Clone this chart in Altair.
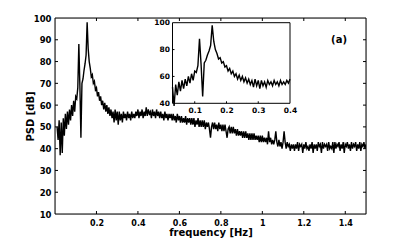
import altair as alt
import pandas as pd

# ---------------- data ----------------
f_start = 0.01
f_step = 0.005
psd_db = [
    50, 44, 53, 37, 52, 38, 54, 46, 56, 49,
    57, 51, 58, 53, 60, 55, 62, 57, 64, 63,
    68, 88, 69, 45, 70, 72, 76, 79, 83, 98,
    86, 80, 77, 73, 74, 70, 71, 67, 68, 64,
    66, 62, 64, 60, 62, 58, 61, 57, 60, 56,
    59, 55, 58, 54, 57, 52, 58, 53, 57, 51,
    57, 53, 56, 52, 57, 54, 56, 53, 57, 54,
    56, 53, 57, 54, 56, 54, 57, 55, 58, 54,
    57, 55, 58, 54, 57, 55, 59, 55, 58, 56,
    57, 54, 58, 55, 57, 54, 58, 55, 57, 54,
    57, 54, 56, 53, 57, 54, 56, 53, 56, 54,
    56, 53, 56, 53, 55, 52, 56, 53, 55, 52,
    55, 52, 54, 52, 55, 51, 54, 52, 54, 51,
    54, 51, 54, 50, 53, 51, 54, 50, 53, 50,
    53, 50, 53, 49, 52, 50, 52, 49, 45, 50,
    52, 49, 52, 49, 51, 48, 52, 49, 51, 48,
    51, 48, 51, 48, 45, 49, 50, 47, 50, 47,
    50, 47, 49, 46, 49, 46, 48, 46, 48, 45,
    48, 45, 48, 45, 47, 44, 47, 44, 47, 44,
    47, 44, 46, 44, 46, 43, 46, 43, 46, 43,
    45, 43, 45, 42, 48, 43, 45, 42, 44, 42,
    44, 48, 43, 41, 44, 41, 43, 40, 43, 48,
    43, 40, 43, 41, 42, 39, 42, 40, 42, 39,
    42, 40, 43, 39, 42, 41, 42, 38, 42, 40,
    43, 40, 41, 39, 42, 40, 43, 38, 42, 40,
    42, 39, 43, 41, 42, 38, 43, 40, 42, 41,
    42, 39, 43, 40, 41, 40, 43, 38, 43, 40,
    42, 41, 43, 39, 42, 40, 43, 38, 42, 41,
    43, 40, 42, 39, 43, 40, 42, 41, 43, 39,
    42, 40, 43, 39, 42, 41, 43, 40, 42,
]
freq_hz = [round(f_start + f_step * i, 3) for i in range(len(psd_db))]

main_xticks = [0.2, 0.4, 0.6, 0.8, 1, 1.2, 1.4]
main_yticks = [10, 20, 30, 40, 50, 60, 70, 80, 90, 100]
inset_xticks = [0.1, 0.2, 0.3, 0.4]
inset_yticks = [40, 60, 80, 100]
main_xdomain = [0, 1.5]
main_ydomain = [10, 100]
inset_xdomain = [0.03, 0.4]
inset_ydomain = [40, 100]
panel_label = "(a)"
panel_label_pos = (1.37, 90)

df = pd.DataFrame({"f": freq_hz, "psd": psd_db})

# ---------------- layout ----------------
W, H = 311, 196
INSET_X0, INSET_X1 = 117.5, 235.0   # pixel range inside plot area
INSET_YT, INSET_YB = 4.7, 85.3
TICK = 3.0
FONT = "DejaVu Sans"
LW = 1.4

mx = alt.Scale(domain=main_xdomain, nice=False, zero=False)
my = alt.Scale(domain=main_ydomain, nice=False, zero=False)
ix = alt.Scale(domain=inset_xdomain, range=[INSET_X0, INSET_X1], nice=False, zero=False)
iy = alt.Scale(domain=inset_ydomain, range=[INSET_YB, INSET_YT], nice=False, zero=False)

lab = dict(labelFont=FONT, labelFontWeight="bold", labelColor="black",
           labelFlush=False, labelOverlap=False, tickSize=0, domain=False, grid=False)

main_line = alt.Chart(df).mark_line(color="black", strokeWidth=LW, clip=True).encode(
    x=alt.X("f:Q", scale=mx, axis=alt.Axis(
        orient="bottom", values=main_xticks, format="~g",
        labelPadding=5, labelFontSize=8,
        title="frequency [Hz]", titleFont=FONT, titleFontWeight="bold", titleColor="black",
        titleFontSize=10, titleX=W / 2, titleY=18,
        titleBaseline="middle", titleAlign="center", **lab)),
    y=alt.Y("psd:Q", scale=my, axis=alt.Axis(
        orient="left", values=main_yticks, format="d",
        labelPadding=4, labelFontSize=8.5,
        title="PSD [dB]", titleFont=FONT, titleFontWeight="bold", titleColor="black",
        titleFontSize=10, titleX=-25, titleY=98, titleAngle=270,
        titleBaseline="middle", titleAlign="center", **lab)),
)

frame_df = pd.DataFrame({"x0": [main_xdomain[0]], "x1": [main_xdomain[1]],
                         "y0": [main_ydomain[0]], "y1": [main_ydomain[1]]})
frame = alt.Chart(frame_df).mark_rect(fill=None, stroke="black", strokeWidth=1).encode(
    x=alt.X("x0:Q", scale=mx, axis=None), x2="x1",
    y=alt.Y("y0:Q", scale=my, axis=None), y2="y1",
)

tl_db = TICK * (main_ydomain[1] - main_ydomain[0]) / H
tl_hz = TICK * (main_xdomain[1] - main_xdomain[0]) / W
xt_rows = []
for v in main_xticks:
    xt_rows.append({"x": v, "y0": main_ydomain[0], "y1": main_ydomain[0] + tl_db})
    xt_rows.append({"x": v, "y0": main_ydomain[1], "y1": main_ydomain[1] - tl_db})
xt = alt.Chart(pd.DataFrame(xt_rows)).mark_rule(color="black", strokeWidth=1).encode(
    x=alt.X("x:Q", scale=mx, axis=None),
    y=alt.Y("y0:Q", scale=my, axis=None), y2="y1",
)
yt_rows = []
for v in main_yticks[1:-1]:
    yt_rows.append({"y": v, "x0": main_xdomain[0], "x1": main_xdomain[0] + tl_hz})
    yt_rows.append({"y": v, "x0": main_xdomain[1], "x1": main_xdomain[1] - tl_hz})
yt = alt.Chart(pd.DataFrame(yt_rows)).mark_rule(color="black", strokeWidth=1).encode(
    x=alt.X("x0:Q", scale=mx, axis=None), x2="x1",
    y=alt.Y("y:Q", scale=my, axis=None),
)

label = alt.Chart(pd.DataFrame({"x": [panel_label_pos[0]], "y": [panel_label_pos[1]],
                                "t": [panel_label]})).mark_text(
    font=FONT, fontWeight="bold", fontSize=10, color="black", align="center", baseline="middle"
).encode(
    x=alt.X("x:Q", scale=mx, axis=None),
    y=alt.Y("y:Q", scale=my, axis=None),
    text="t:N",
)

# ---------------- inset ----------------
inset_box_df = pd.DataFrame({"x0": [inset_xdomain[0]], "x1": [inset_xdomain[1]],
                             "y0": [inset_ydomain[0]], "y1": [inset_ydomain[1]]})
inset_box = alt.Chart(inset_box_df).mark_rect(fill="white", stroke="black", strokeWidth=1).encode(
    x=alt.X("x0:Q", scale=ix, axis=None), x2="x1",
    y=alt.Y("y0:Q", scale=iy, axis=None), y2="y1",
)

inset_line = alt.Chart(df).transform_filter(
    (alt.datum.f >= inset_xdomain[0]) & (alt.datum.f <= inset_xdomain[1])
).mark_line(color="black", strokeWidth=LW).encode(
    x=alt.X("f:Q", scale=ix, axis=alt.Axis(
        orient="bottom", offset=-(H - INSET_YB), values=inset_xticks, format="~g",
        labelPadding=3, labelFontSize=7.5, title=None, **lab)),
    y=alt.Y("psd:Q", scale=iy, axis=alt.Axis(
        orient="left", offset=-INSET_X0, values=inset_yticks, format="d",
        labelPadding=3, labelFontSize=7.5, title=None, **lab)),
)

itl_db = 2.0 * (inset_ydomain[1] - inset_ydomain[0]) / (INSET_YB - INSET_YT)
itl_hz = 2.0 * (inset_xdomain[1] - inset_xdomain[0]) / (INSET_X1 - INSET_X0)
ixt = alt.Chart(pd.DataFrame({"x": inset_xticks[:-1],
                              "y0": [inset_ydomain[0]] * 3,
                              "y1": [inset_ydomain[0] + itl_db] * 3})).mark_rule(
    color="black", strokeWidth=1).encode(
    x=alt.X("x:Q", scale=ix, axis=None),
    y=alt.Y("y0:Q", scale=iy, axis=None), y2="y1",
)
iyt = alt.Chart(pd.DataFrame({"y": inset_yticks[1:-1],
                              "x0": [inset_xdomain[0]] * 2,
                              "x1": [inset_xdomain[0] + itl_hz] * 2})).mark_rule(
    color="black", strokeWidth=1).encode(
    x=alt.X("x0:Q", scale=ix, axis=None), x2="x1",
    y=alt.Y("y:Q", scale=iy, axis=None),
)

chart = alt.layer(
    main_line, frame, xt, yt, label, inset_box, inset_line, ixt, iyt
).resolve_scale(x="independent", y="independent").properties(
    width=W, height=H,
    autosize=alt.AutoSizeParams(type="none"),
    padding={"left": 47, "top": 10, "right": 29, "bottom": 26},
).configure_view(stroke=None).configure(background="white")

chart.save("out.html", embed_options={"renderer": "svg", "actions": False})
